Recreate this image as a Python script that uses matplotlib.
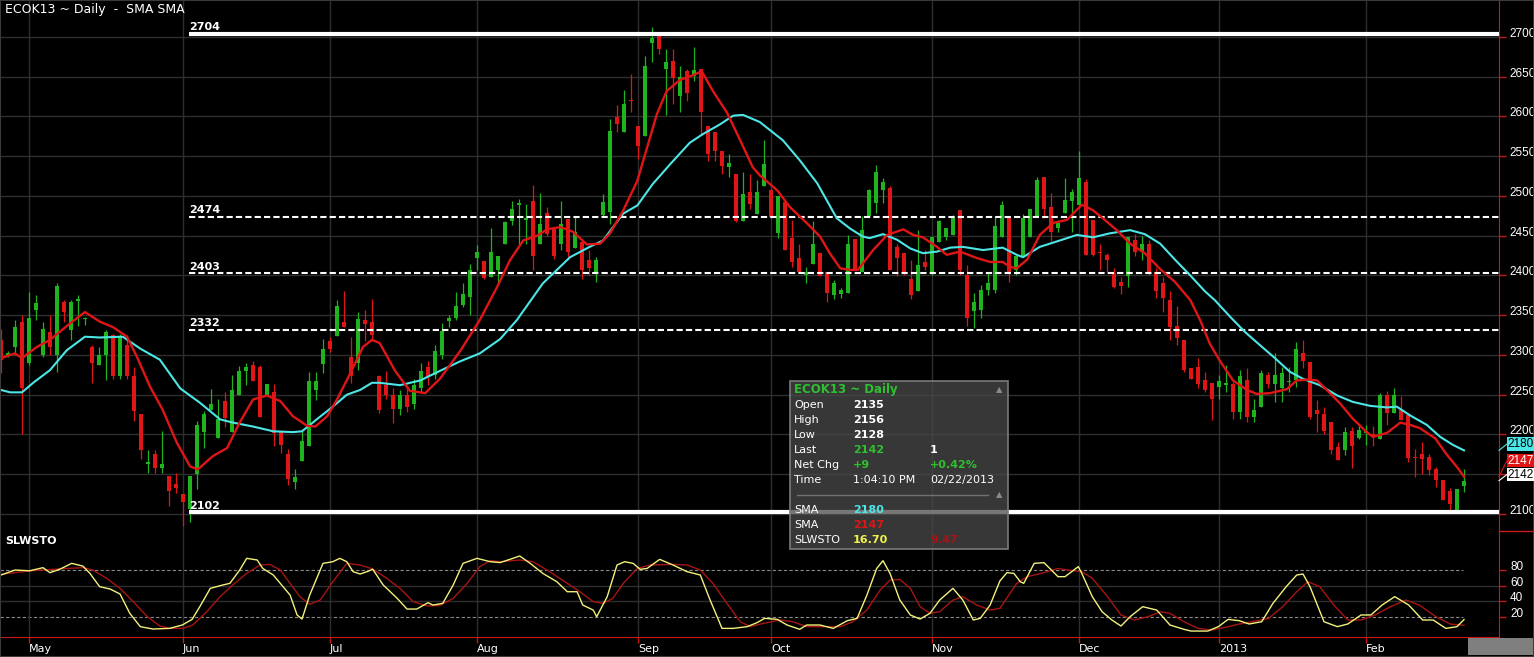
import matplotlib
matplotlib.use("Agg")
import matplotlib.pyplot as plt
from matplotlib.patches import Rectangle
from matplotlib.lines import Line2D
from matplotlib.transforms import ScaledTranslation

# daily candles, ECOK13, late Apr 2012 .. 22 Feb 2013 (index = trading day)
opens = [2319, 2299, 2310, 2342, 2290, 2356, 2300, 2329, 2300, 2367,
         2331, 2368, 2345, 2310, 2288, 2300, 2325, 2273, 2312, 2273,
         2226, 2163, 2175, 2158, 2148, 2138, 2125, 2106, 2150, 2203,
         2231, 2196, 2242, 2203, 2250, 2280, 2287, 2285, 2250, 2253,
         2204, 2176, 2140, 2167, 2185, 2256, 2289, 2317, 2324, 2342,
         2297, 2290, 2344, 2342, 2273, 2262, 2250, 2232, 2250, 2238,
         2258, 2285, 2275, 2300, 2343, 2346, 2363, 2373, 2422, 2418,
         2398, 2407, 2440, 2469, 2489, 2470, 2494, 2440, 2478, 2458,
         2440, 2471, 2434, 2442, 2420, 2404, 2476, 2480, 2599, 2580,
         2621, 2588, 2576, 2693, 2701, 2660, 2670, 2626, 2657, 2651,
         2660, 2588, 2580, 2557, 2536, 2528, 2469, 2505, 2477, 2512,
         2508, 2453, 2493, 2447, 2422, 2400, 2415, 2428, 2405, 2376,
         2377, 2378, 2446, 2405, 2475, 2491, 2508, 2510, 2436, 2428,
         2395, 2380, 2417, 2403, 2442, 2449, 2451, 2482, 2401, 2355,
         2357, 2382, 2382, 2449, 2473, 2407, 2424, 2449, 2475, 2524,
         2486, 2460, 2479, 2494, 2489, 2517, 2470, 2430, 2426, 2403,
         2392, 2399, 2445, 2430, 2440, 2405, 2390, 2369, 2337, 2319,
         2283, 2285, 2268, 2265, 2260, 2262, 2264, 2228, 2269, 2222,
         2235, 2275, 2264, 2258, 2266, 2268, 2303, 2291, 2231, 2226,
         2216, 2184, 2180, 2205, 2195, 2202, 2200, 2194, 2250, 2227,
         2231, 2224, 2172, 2175, 2172, 2157, 2143, 2129, 2105, 2135]
highs = [2333, 2305, 2344, 2350, 2379, 2375, 2342, 2350, 2390, 2369,
         2369, 2375, 2348, 2312, 2310, 2331, 2327, 2327, 2325, 2285,
         2226, 2181, 2181, 2204, 2148, 2152, 2125, 2148, 2217, 2229,
         2257, 2245, 2254, 2275, 2286, 2290, 2292, 2287, 2263, 2263,
         2204, 2182, 2156, 2204, 2279, 2279, 2320, 2323, 2369, 2380,
         2323, 2354, 2356, 2371, 2275, 2280, 2258, 2256, 2262, 2270,
         2290, 2292, 2312, 2340, 2350, 2379, 2390, 2414, 2438, 2418,
         2460, 2425, 2469, 2494, 2496, 2490, 2514, 2504, 2486, 2458,
         2494, 2471, 2473, 2444, 2432, 2423, 2502, 2597, 2615, 2633,
         2654, 2588, 2676, 2712, 2701, 2685, 2685, 2664, 2660, 2687,
         2660, 2588, 2580, 2557, 2553, 2528, 2530, 2528, 2520, 2570,
         2510, 2500, 2493, 2470, 2440, 2411, 2468, 2428, 2405, 2394,
         2384, 2451, 2446, 2475, 2509, 2539, 2522, 2512, 2440, 2428,
         2420, 2457, 2432, 2449, 2470, 2460, 2476, 2482, 2413, 2378,
         2388, 2403, 2475, 2494, 2473, 2424, 2477, 2484, 2524, 2524,
         2504, 2470, 2522, 2509, 2557, 2521, 2470, 2440, 2428, 2410,
         2398, 2449, 2452, 2450, 2445, 2410, 2398, 2380, 2362, 2319,
         2283, 2296, 2279, 2265, 2275, 2287, 2266, 2281, 2283, 2245,
         2281, 2279, 2302, 2285, 2285, 2316, 2319, 2291, 2243, 2235,
         2216, 2191, 2210, 2210, 2212, 2212, 2211, 2252, 2255, 2259,
         2248, 2224, 2182, 2190, 2176, 2159, 2143, 2133, 2132, 2156]
lows = [2277, 2297, 2300, 2200, 2288, 2344, 2298, 2300, 2279, 2342,
        2319, 2337, 2338, 2265, 2287, 2269, 2270, 2270, 2270, 2217,
        2169, 2152, 2152, 2152, 2110, 2127, 2085, 2090, 2131, 2183,
        2231, 2196, 2210, 2203, 2250, 2262, 2267, 2222, 2250, 2185,
        2177, 2137, 2131, 2167, 2185, 2244, 2277, 2304, 2324, 2335,
        2265, 2281, 2317, 2317, 2227, 2245, 2215, 2225, 2228, 2232,
        2252, 2262, 2270, 2295, 2335, 2344, 2360, 2350, 2407, 2396,
        2398, 2390, 2440, 2464, 2440, 2440, 2407, 2440, 2450, 2421,
        2432, 2421, 2434, 2396, 2400, 2392, 2473, 2465, 2580, 2580,
        2605, 2547, 2576, 2668, 2678, 2602, 2616, 2605, 2620, 2645,
        2578, 2544, 2544, 2528, 2524, 2467, 2469, 2484, 2477, 2512,
        2472, 2447, 2432, 2411, 2405, 2390, 2415, 2399, 2367, 2370,
        2372, 2378, 2407, 2405, 2475, 2478, 2491, 2407, 2399, 2401,
        2370, 2380, 2407, 2401, 2442, 2445, 2451, 2401, 2336, 2334,
        2346, 2376, 2378, 2449, 2392, 2401, 2424, 2449, 2475, 2472,
        2443, 2455, 2479, 2455, 2489, 2426, 2424, 2407, 2405, 2384,
        2377, 2386, 2425, 2420, 2400, 2372, 2354, 2319, 2312, 2279,
        2270, 2258, 2254, 2218, 2245, 2254, 2220, 2220, 2216, 2216,
        2235, 2258, 2241, 2241, 2254, 2260, 2283, 2220, 2203, 2201,
        2175, 2168, 2174, 2158, 2194, 2187, 2185, 2194, 2212, 2227,
        2218, 2166, 2147, 2150, 2149, 2134, 2117, 2105, 2105, 2128]
closes = [2294, 2302, 2335, 2258, 2346, 2365, 2333, 2310, 2387, 2354,
          2367, 2371, 2346, 2290, 2300, 2329, 2273, 2323, 2273, 2229,
          2181, 2165, 2158, 2163, 2129, 2133, 2115, 2148, 2212, 2226,
          2238, 2219, 2221, 2256, 2280, 2285, 2267, 2222, 2263, 2202,
          2187, 2144, 2147, 2192, 2267, 2267, 2308, 2308, 2362, 2335,
          2274, 2345, 2339, 2325, 2231, 2250, 2232, 2250, 2235, 2262,
          2280, 2272, 2305, 2330, 2347, 2361, 2377, 2407, 2430, 2397,
          2430, 2425, 2467, 2484, 2491, 2472, 2425, 2465, 2452, 2425,
          2465, 2430, 2455, 2407, 2410, 2420, 2492, 2582, 2590, 2616,
          2619, 2563, 2664, 2699, 2685, 2668, 2649, 2650, 2629, 2659,
          2605, 2553, 2557, 2538, 2542, 2469, 2503, 2490, 2505, 2540,
          2474, 2500, 2432, 2417, 2405, 2405, 2440, 2399, 2378, 2391,
          2382, 2440, 2407, 2457, 2507, 2530, 2517, 2407, 2422, 2405,
          2376, 2413, 2411, 2449, 2468, 2460, 2474, 2407, 2346, 2367,
          2382, 2391, 2462, 2489, 2405, 2424, 2472, 2484, 2520, 2484,
          2455, 2466, 2495, 2505, 2523, 2426, 2426, 2428, 2420, 2386,
          2387, 2449, 2430, 2440, 2405, 2380, 2372, 2335, 2321, 2281,
          2270, 2264, 2256, 2245, 2267, 2265, 2228, 2273, 2222, 2231,
          2277, 2264, 2275, 2277, 2267, 2308, 2293, 2222, 2226, 2205,
          2180, 2168, 2203, 2185, 2206, 2204, 2197, 2250, 2227, 2250,
          2218, 2170, 2170, 2169, 2155, 2143, 2117, 2113, 2132, 2142]

# moving averages: (trading day, value)
sma_fast = [(0, 2296), (2, 2302), (3, 2296), (5.1, 2310), (7, 2319), (9.9, 2340),
            (12, 2354), (14.1, 2342), (16, 2335), (18, 2323), (19.4, 2298),
            (21.3, 2260), (23.1, 2231), (25.1, 2190), (27, 2160), (28.1, 2156),
            (30.3, 2173), (32.3, 2183), (34.1, 2215), (36, 2244), (38, 2249),
            (39.9, 2242), (41.7, 2223), (43.7, 2211), (44.9, 2210), (46.6, 2223),
            (48, 2244), (49.9, 2277), (51.7, 2310), (53, 2319), (54.1, 2315),
            (56.3, 2280), (58.4, 2255), (60.6, 2252), (62.7, 2270), (65.6, 2305),
            (68.4, 2344), (70.9, 2386), (72.7, 2419), (74.6, 2444), (76.6, 2450),
            (78, 2458), (79.9, 2461), (81.7, 2455), (83.7, 2439), (85.6, 2440),
            (87, 2453), (88.9, 2482), (90.9, 2519), (92.3, 2561), (93.7, 2603),
            (95.1, 2632), (97, 2646), (98.9, 2652), (100.1, 2657), (101.7, 2632),
            (103.7, 2605), (105.6, 2570), (107.4, 2536), (108.4, 2526),
            (110.9, 2507), (112.7, 2486), (115.1, 2466), (117, 2449), (118.4, 2428),
            (119.9, 2409), (121.3, 2407), (122.4, 2407), (124.6, 2432),
            (126.6, 2451), (128.9, 2458), (130.3, 2451), (131.7, 2448),
            (133.7, 2436), (135.1, 2426), (137, 2430), (139.4, 2422), (141.3, 2417),
            (143.1, 2417), (144.1, 2411), (145.1, 2409), (146.6, 2420),
            (148.4, 2451), (150.3, 2466), (152.3, 2470), (154.4, 2489), (156, 2482),
            (157.4, 2472), (159.4, 2457), (161.3, 2440), (163.4, 2428),
            (165.6, 2408), (167.7, 2392), (169.9, 2369), (171.3, 2344),
            (172.7, 2314), (174.1, 2293), (176, 2268), (178, 2256), (179.4, 2251),
            (181.3, 2252), (183.7, 2257), (185.1, 2268), (186.6, 2269), (188, 2268),
            (189.4, 2256), (191.3, 2239), (193.1, 2220), (195.1, 2203), (196, 2197),
            (198, 2202), (199.9, 2215), (201.3, 2212), (202.7, 2208), (204.9, 2195),
            (206.6, 2174), (208, 2159), (209, 2147)]
sma_slow = [(0, 2256), (1.3, 2253), (3, 2253), (4.6, 2265), (7, 2281), (9.4, 2306),
            (12, 2323), (14.1, 2322), (17.4, 2323), (19.9, 2308), (22.7, 2294),
            (25.6, 2258), (28.4, 2240), (31.3, 2219), (33.1, 2215), (36, 2210),
            (38.9, 2204), (41.7, 2203), (43, 2204), (45.1, 2219), (47.4, 2235),
            (49.4, 2250), (51.3, 2256), (53, 2265), (54.1, 2265), (57, 2262),
            (59.9, 2268), (62.7, 2280), (65.6, 2292), (68.4, 2302), (71.3, 2320),
            (73.7, 2344), (77.4, 2390), (81.3, 2423), (84.1, 2436), (86, 2444),
            (88.9, 2478), (90.9, 2488), (93.1, 2515), (95.6, 2540), (98.4, 2567),
            (100.3, 2578), (102.7, 2590), (104.6, 2601), (106, 2602), (108.4, 2593),
            (111.7, 2570), (114.1, 2545), (116.6, 2516), (119.4, 2472),
            (121.3, 2459), (123.1, 2449), (124.1, 2447), (126, 2452), (128, 2445),
            (129.9, 2434), (131.7, 2428), (133.7, 2430), (135.6, 2435),
            (137.4, 2436), (140.3, 2432), (143.1, 2435), (145.1, 2426), (146, 2423),
            (148.4, 2436), (150.9, 2443), (153.7, 2451), (156, 2448), (158.4, 2453),
            (161.3, 2457), (163.4, 2452), (165.6, 2440), (167.7, 2420),
            (169.9, 2400), (172, 2380), (173.4, 2369), (175.6, 2348), (177.7, 2329),
            (179.9, 2312), (182, 2296), (184.1, 2279), (186, 2270), (188.4, 2262),
            (190.9, 2249), (193.1, 2241), (195.6, 2236), (198, 2234), (199.4, 2235),
            (201.3, 2224), (203.7, 2212), (205.6, 2197), (207.4, 2187), (209, 2180)]

# slow stochastic %K / %D
stoch_k = [(0, 73.6), (2, 80), (4.1, 79), (6, 83), (7, 76.6), (8.4, 81), (10.1, 88.5),
           (11.7, 85), (12.7, 75.7), (14.1, 58.7), (15.6, 55.7), (17, 49.4),
           (18.4, 24.7), (19.9, 7.7), (21.7, 4.7), (24.1, 5.5), (25.9, 9.8),
           (27.3, 17), (28.4, 33.2), (29.9, 56.6), (31.7, 60.9), (32.7, 63),
           (34.1, 80), (35.1, 94.9), (36.6, 92.8), (37.4, 82), (38.9, 73.6),
           (40.3, 58.7), (41.3, 48), (42.3, 22.6), (43, 17.4), (44.1, 48),
           (46, 88.5), (47.4, 90.6), (48.4, 94.9), (49.4, 90.6), (50.3, 77.9),
           (51.3, 74.9), (52.3, 77.9), (53.1, 81), (54.6, 60.9), (56.6, 43.8),
           (58, 30.2), (59.4, 30.2), (61, 38.3), (61.7, 35.3), (63.1, 37.4),
           (64.6, 60.9), (66, 88.5), (68, 94.9), (69.9, 90.6), (71.3, 89.5),
           (72.7, 93.6), (74.1, 97.9), (75.6, 88.5), (77.4, 75.7), (79.4, 65.1),
           (80.9, 52.3), (82.3, 52.3), (83.1, 35.3), (84.6, 28.9), (85.1, 20.4),
           (86.6, 46), (88, 86.4), (89.1, 90.6), (90.3, 88.5), (91.3, 80.9),
           (92.3, 82), (94.1, 93.6), (96, 86.4), (98, 77.9), (99.9, 73.6),
           (101.3, 41.7), (103, 5.5), (104.6, 5.5), (106.6, 7.7), (108, 12.8),
           (109.1, 18.3), (110.9, 17), (112.3, 9.8), (114.1, 4.3), (115.1, 9.8),
           (117, 9.8), (118.9, 5.5), (120.9, 15.3), (122.3, 18.3), (123.7, 48),
           (125.1, 82), (126, 91.9), (127, 75.7), (128.4, 41.7), (129.9, 22.6),
           (131.3, 17.4), (132.7, 24.7), (134.1, 41.7), (136, 56.6), (137.4, 41.7),
           (138.9, 16.2), (139.9, 18.3), (141.3, 35.3), (142.7, 66), (143.7, 76.6),
           (144.7, 75.7), (145.6, 65.1), (146.1, 63), (147.6, 88.5), (149, 89.4),
           (151, 71.5), (152, 71.5), (153.9, 84.3), (154.4, 75.7), (155.9, 46),
           (157.3, 26.8), (158.7, 16.2), (160, 8.5), (161.3, 20.4), (163.1, 33.2),
           (165.1, 28.9), (167, 9.8), (169, 4.3), (170, 2.1), (172.4, 2.1),
           (173.9, 7.7), (175.3, 17), (176.9, 15.3), (178.3, 11.1), (180.1, 14),
           (181.7, 37.4), (183.6, 58.7), (185.1, 73.6), (186, 74.9), (187, 58.7),
           (189, 14), (190.9, 7.7), (192.4, 11.1), (194.3, 22.6), (195.7, 22.6),
           (197.3, 35.3), (199.1, 46), (201.1, 35.3), (203.1, 16.2), (204.6, 16.2),
           (206.4, 5.5), (208, 7.7), (209, 16.70)]
stoch_d = [(0, 74.5), (4.1, 79), (9.4, 82), (11.7, 83), (13.1, 80), (15.1, 69.4),
           (17, 56.6), (18.9, 39.6), (20.9, 20.4), (22.7, 8.5), (24.1, 5.5), (26, 5.5),
           (27.4, 9.8), (29.4, 26.8), (31.3, 46), (33.1, 60.9), (35.1, 75.7),
           (37, 86.4), (38.4, 87.2), (39.9, 80), (41.3, 63), (42.7, 46), (44.1, 36.2),
           (45.6, 41.7), (47.4, 65.1), (49.4, 88.5), (51.3, 86.4), (53.1, 81.3),
           (55.1, 69.4), (57, 56.6), (58.9, 39.6), (60.9, 34), (62.7, 34.9),
           (64.6, 43.8), (66.6, 63), (68.4, 84.3), (69.9, 91.9), (71.3, 90.6),
           (74.1, 92.8), (76, 90.6), (78, 80), (80.9, 63), (82.7, 52.3), (84.6, 39.6),
           (86, 37.4), (87.4, 43.8), (88.9, 63), (90.9, 82), (92.7, 86.4), (96, 87.2),
           (98, 86.4), (99.9, 80), (101.7, 63), (103.7, 37.4), (105.6, 14), (107, 7.7),
           (108.9, 11.9), (111.3, 16.2), (113.1, 14), (115.1, 7.7), (117, 7.7),
           (119.9, 7.7), (121.7, 14), (123.7, 28.9), (125.6, 54.5), (127, 67.2),
           (128.4, 68.1), (129.9, 56.6), (131.3, 33.2), (132.7, 24.7), (134.1, 26.8),
           (136, 41.7), (137.4, 46), (139.4, 35.3), (141.3, 28.9), (142.7, 31),
           (145.1, 63), (146.6, 71.5), (149, 76.6), (151, 82), (152.4, 80),
           (154.4, 77.9), (155.9, 69.4), (157.9, 48), (160, 22.6), (161.9, 16.2),
           (163.9, 20.4), (165.6, 26.8), (167, 24.7), (169, 14), (171, 5.5),
           (172.9, 3.4), (174.9, 6.8), (176.9, 11.1), (178.7, 14), (181.1, 18.3),
           (183.1, 33.2), (185.1, 52.3), (186.7, 65.1), (188.4, 58.7), (190.4, 35.3),
           (192.4, 16.2), (194.3, 16.2), (196.3, 22.6), (198.3, 32.3), (200.7, 41.7),
           (202.6, 35.3), (205, 20.4), (207, 11.1), (209, 9.47)]

month_days = [4, 26, 47, 68, 91, 110, 133, 154, 174, 195]
month_labels = ["May", "Jun", "Jul", "Aug", "Sep", "Oct", "Nov", "Dec", "2013", "Feb"]

support_levels = [2704, 2474, 2403, 2332, 2102]
support_solid = [True, False, False, False, True]
support_start = 26.9

price_ticks = list(range(2100, 2701, 50))
stoch_ticks = [20, 40, 60, 80]

GREEN = "#1fb41f"
RED = "#e01515"
CYAN = "#4de6e6"
YELLOW = "#f2f27a"
DRED = "#a81414"
GRID = "#2e2e2e"
AXRED = "#c81818"
AXFONT = "Liberation Sans"

W, H = 1534, 657
fig = plt.figure(figsize=(W / 100, H / 100), dpi=100, facecolor="black")


def fx(px):
    return px / W


def fy(py):
    return 1 - py / H


ax = fig.add_axes([0, fy(531), fx(1499), 531 / H], facecolor="black")
sx = fig.add_axes([0, fy(637), fx(1499), 106 / H], facecolor="black", sharex=ax)

# --- price panel ---
days = list(range(len(closes)))
cols = [GREEN if c >= o else RED for o, c in zip(opens, closes)]
bottoms = [min(o, c) for o, c in zip(opens, closes)]
heights = [max(abs(c - o), 1.4) for o, c in zip(opens, closes)]
ax.vlines(days, lows, highs, colors=cols, lw=0.9, zorder=3)
ax.bar(days, heights, bottom=bottoms, width=0.62, color=cols, lw=0, zorder=3)

for lvl, solid in zip(support_levels, support_solid):
    if solid:
        ax.hlines(lvl, support_start, 214, colors="white", lw=3, zorder=4)
    else:
        ax.hlines(lvl, support_start, 214, colors="white", lw=1.5,
                  linestyles=(0, (3, 1.5)), zorder=4)
    ax.text(support_start, lvl, str(lvl), color="white", fontsize=8, fontweight="bold",
            va="baseline", ha="left", zorder=5,
            transform=ax.transData + ScaledTranslation(0, 2.5 / 72, fig.dpi_scale_trans))

sx_d, sx_v = zip(*sma_slow)
ax.plot(sx_d, sx_v, color=CYAN, lw=1.5, zorder=6)
fx_d, fx_v = zip(*sma_fast)
ax.plot(fx_d, fx_v, color=RED, lw=1.7, zorder=7)

ax.set_xlim(-1 / 7, 1498 / 7)
ax.set_ylim(2078.6, 2746.5)
ax.set_xticks(month_days)
ax.set_yticks(price_ticks)
# the 2150 label sits under the last-value badges, as in the original
ax.set_yticklabels(["" if t == 2150 else str(t) for t in price_ticks])
ax.grid(True, color=GRID, lw=1, zorder=0)
ax.yaxis.tick_right()
ax.tick_params(axis="y", color=AXRED, labelcolor="white", length=5, width=1,
               pad=2.5, labelsize=8.5)
ax.tick_params(axis="x", bottom=False, labelbottom=False)
for lbl in ax.get_yticklabels():
    lbl.set_verticalalignment("baseline")
    lbl.set_family(AXFONT)
for side in ["top", "left", "bottom"]:
    ax.spines[side].set_visible(False)
ax.spines["right"].set_color(AXRED)

# --- stochastic panel ---
k_d, k_v = zip(*stoch_k)
d_d, d_v = zip(*stoch_d)
sx.hlines([40, 60], -1, 215, colors=GRID, lw=1, zorder=0)
sx.hlines([20, 80], -1 / 7, 208.9, colors="#8a8a8a", lw=0.8,
          linestyles=(0, (3, 2)), zorder=1)
sx.plot(d_d, d_v, color=DRED, lw=1, zorder=3)
sx.plot(k_d, k_v, color=YELLOW, lw=1, zorder=4)
sx.set_ylim(-5.5, 129.8)
sx.set_yticks(stoch_ticks)
sx.yaxis.tick_right()
sx.grid(True, axis="x", color=GRID, lw=1, zorder=0)
sx.tick_params(axis="y", color=AXRED, labelcolor="white", length=5, width=1,
               pad=3, labelsize=8.5)
for lbl in sx.get_yticklabels():
    lbl.set_verticalalignment("baseline")
    lbl.set_family(AXFONT)
sx.set_xticks(month_days)
sx.set_xticklabels(month_labels)
sx.tick_params(axis="x", color=AXRED, labelcolor="white", length=4, width=1,
               pad=1, labelsize=8)
for lbl in sx.get_xticklabels():
    lbl.set_horizontalalignment("left")
for side in ["top", "left"]:
    sx.spines[side].set_visible(False)
sx.spines["right"].set_color(AXRED)
sx.spines["bottom"].set_color(AXRED)

# --- decorations in figure space ---
fig.add_artist(Line2D([fx(1499), 1], [fy(531), fy(531)], color=AXRED, lw=1))
fig.add_artist(Rectangle((fx(1468), fy(655)), fx(1534 - 1468), 17 / H,
                         transform=fig.transFigure, facecolor="#7f7f7f", lw=0))
fig.add_artist(Rectangle((0, 0), 1, 1, transform=fig.transFigure, fill=False,
                         edgecolor="#3a3a3a", lw=1.5))

fig.text(fx(5), fy(10), "ECOK13 ~ Daily  -  SMA SMA", color="white", fontsize=9,
         va="center", ha="left")
fig.text(fx(5), fy(541), "SLWSTO", color="white", fontsize=8, fontweight="bold",
         va="center", ha="left")

# last value badges at the right edge
badges = [(sma_slow[-1][1], CYAN, "black", 437, 451),
          (sma_fast[-1][1], RED, "white", 454, 467),
          (closes[-1], "white", "black", 468, 481)]
for val, bg, fg, top, bot in badges:
    py_val = 37 + (2700 - val) * 0.795
    fig.add_artist(Line2D([fx(1499), fx(1507)], [fy(py_val), fy((top + bot) / 2)],
                          color=bg, lw=0.8))
    fig.add_artist(Rectangle((fx(1507), fy(bot)), fx(27), (bot - top) / H,
                             transform=fig.transFigure, facecolor=bg, lw=0))
    fig.text(fx(1507.5), fy((top + bot) / 2), str(val), color=fg, fontsize=8.5,
             family=AXFONT, va="center", ha="left")

# data window
fig.add_artist(Rectangle((fx(790), fy(549)), fx(218), 168 / H, transform=fig.transFigure,
                         facecolor=(0.29, 0.29, 0.29, 0.75), edgecolor="#7a7a7a", lw=1.2))
fig.text(fx(794), fy(390), "ECOK13 ~ Daily", color="#2fc02f", fontsize=8.5,
         fontweight="bold", va="center")
fig.text(fx(999), fy(390), "\u25b2", color="#8a8a8a", fontsize=6, va="center", ha="center")
rows = [("Open", str(opens[-1]), "white", "", "white", 405),
        ("High", str(highs[-1]), "white", "", "white", 420),
        ("Low", str(lows[-1]), "white", "", "white", 435),
        ("Last", str(closes[-1]), "#2fc02f", "1", "white", 450),
        ("Net Chg", "+9", "#2fc02f", "+0.42%", "#2fc02f", 465)]
for name, v1, c1, v2, c2, py in rows:
    fig.text(fx(794), fy(py), name, color="white", fontsize=8, va="center")
    fig.text(fx(853), fy(py), v1, color=c1, fontsize=8, fontweight="bold", va="center")
    fig.text(fx(930), fy(py), v2, color=c2, fontsize=8, fontweight="bold", va="center")
fig.text(fx(794), fy(480), "Time", color="white", fontsize=8, va="center")
fig.text(fx(853), fy(480), "1:04:10 PM", color="white", fontsize=8, va="center")
fig.text(fx(930), fy(480), "02/22/2013", color="white", fontsize=8, va="center")
fig.add_artist(Line2D([fx(797), fx(988)], [fy(495), fy(495)], color="#707070", lw=1))
fig.text(fx(999), fy(495), "\u25b2", color="#8a8a8a", fontsize=6, va="center", ha="center")
fig.text(fx(794), fy(510), "SMA", color="white", fontsize=8, va="center")
fig.text(fx(853), fy(510), str(sma_slow[-1][1]), color=CYAN, fontsize=8,
         fontweight="bold", va="center")
fig.text(fx(794), fy(525), "SMA", color="white", fontsize=8, va="center")
fig.text(fx(853), fy(525), str(sma_fast[-1][1]), color=RED, fontsize=8,
         fontweight="bold", va="center")
fig.text(fx(794), fy(540), "SLWSTO", color="white", fontsize=8, va="center")
fig.text(fx(853), fy(540), "%.2f" % stoch_k[-1][1], color="#f2f24a", fontsize=8,
         fontweight="bold", va="center")
fig.text(fx(930), fy(540), "%.2f" % stoch_d[-1][1], color=DRED, fontsize=8,
         fontweight="bold", va="center")

fig.savefig("out.png", dpi=100, facecolor="black")
